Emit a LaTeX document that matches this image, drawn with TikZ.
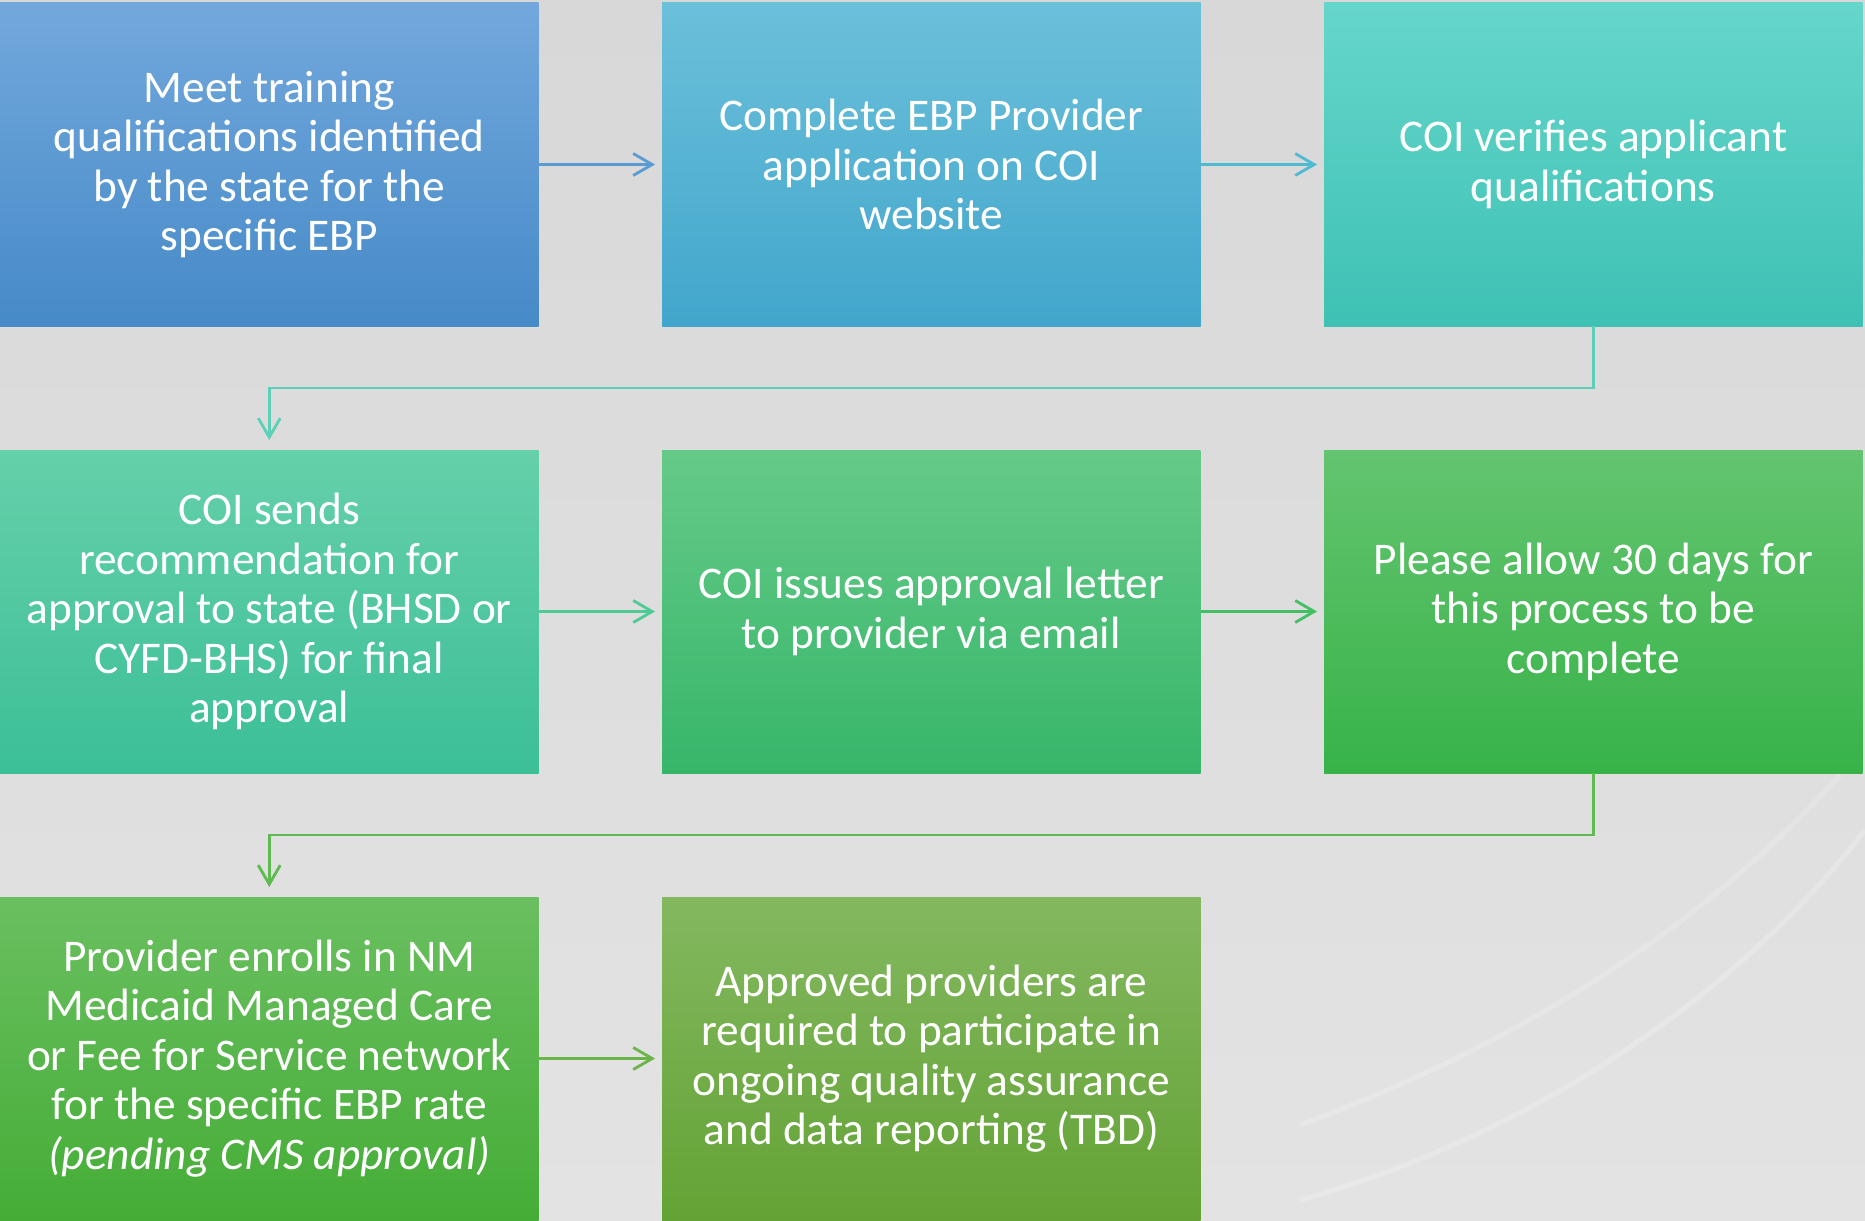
\documentclass[tikz,border=0pt]{standalone}
\usepackage{fontspec}
\setmainfont{Carlito}
\usetikzlibrary{arrows.meta, calc, positioning}

\definecolor{bgtop}{HTML}{D8D8D8}
\definecolor{bgbot}{HTML}{E3E3E3}

\begin{document}
\begin{tikzpicture}[
	node distance=1.24cm and 1.235cm,
	block/.style={minimum width=5.385cm, minimum height=3.23cm,
		inner sep=0pt, outer sep=0pt, align=center, text=white,
		font=\fontsize{12.9}{14.1}\selectfont
	},
	flow/.style={-{Straight Barb[length=0.19cm, width=0.22cm]}, line width=0.8pt, shorten >=0.07cm},
	link/.style={-{Straight Barb[length=0.19cm, width=0.22cm]}, line width=0.8pt, shorten >=0.1cm}]

% background
\useasboundingbox (0,0) rectangle (18.65,12.2);
\shade[top color=bgtop, bottom color=bgbot] (0,0) rectangle (18.65,12.2);
\draw[white, opacity=0.2, line width=1.5pt] (13.0,0.2) .. controls (15.5,0.9) and (17.5,2.4) .. (18.65,3.9);
\draw[white, opacity=0.18, line width=1.5pt] (13.0,0.95) .. controls (15.3,1.8) and (17.1,3.0) .. (18.4,4.45);

% row 1
\node[block, anchor=north west, top color={rgb,255:red,114;green,168;blue,220}, bottom color={rgb,255:red,70;green,138;blue,200}]
	(meet) at (0,12.17) {Meet training\\ qualifications identified\\ by the state for the\\ specific EBP};
\node[block, right=of meet, top color={rgb,255:red,107;green,192;blue,218}, bottom color={rgb,255:red,66;green,166;blue,204}]
	(apply) {Complete EBP Provider\\ application on COI\\ website};
\node[block, right=of apply, top color={rgb,255:red,102;green,214;blue,203}, bottom color={rgb,255:red,62;green,193;blue,180}]
	(verify) {COI verifies applicant\\ qualifications};

% row 2
\node[block, below=of meet, top color={rgb,255:red,101;green,208;blue,170}, bottom color={rgb,255:red,60;green,191;blue,151}]
	(recommend) {COI sends\\ recommendation for\\ approval to state (BHSD or\\ CYFD-BHS) for final\\ approval};
\node[block, right=of recommend, top color={rgb,255:red,101;green,202;blue,136}, bottom color={rgb,255:red,55;green,182;blue,106}]
	(letter) {COI issues approval letter\\ to provider via email};
\node[block, right=of letter, top color={rgb,255:red,100;green,196;blue,112}, bottom color={rgb,255:red,55;green,179;blue,72}]
	(allow) {Please allow 30 days for\\ this process to be\\ complete};

% row 3
\node[block, below=of recommend, top color={rgb,255:red,106;green,191;blue,96}, bottom color={rgb,255:red,69;green,173;blue,54}]
	(enroll) {Provider enrolls in NM\\ Medicaid Managed Care\\ or Fee for Service network\\ for the specific EBP rate\\ \textit{(pending CMS approval)}};
\node[block, right=of enroll, top color={rgb,255:red,132;green,184;blue,96}, bottom color={rgb,255:red,99;green,163;blue,53}]
	(report) {Approved providers are\\ required to participate in\\ ongoing quality assurance\\ and data reporting (TBD)};

% connectors
\draw[flow, color={rgb,255:red,91;green,155;blue,213}] (meet) -- (apply);
\draw[flow, color={rgb,255:red,78;green,187;blue,211}] (apply) -- (verify);
\draw[link, color={rgb,255:red,94;green,208;blue,184}] (verify.south) -- ++(0,-0.62) -| (recommend.north);

\draw[flow, color={rgb,255:red,78;green,203;blue,148}] (recommend) -- (letter);
\draw[flow, color={rgb,255:red,68;green,192;blue,100}] (letter) -- (allow);
\draw[link, color={rgb,255:red,93;green,187;blue,79}] (allow.south) -- ++(0,-0.62) -| (enroll.north);

\draw[flow, color={rgb,255:red,107;green,180;blue,73}] (enroll) -- (report);
\end{tikzpicture}
\end{document}
